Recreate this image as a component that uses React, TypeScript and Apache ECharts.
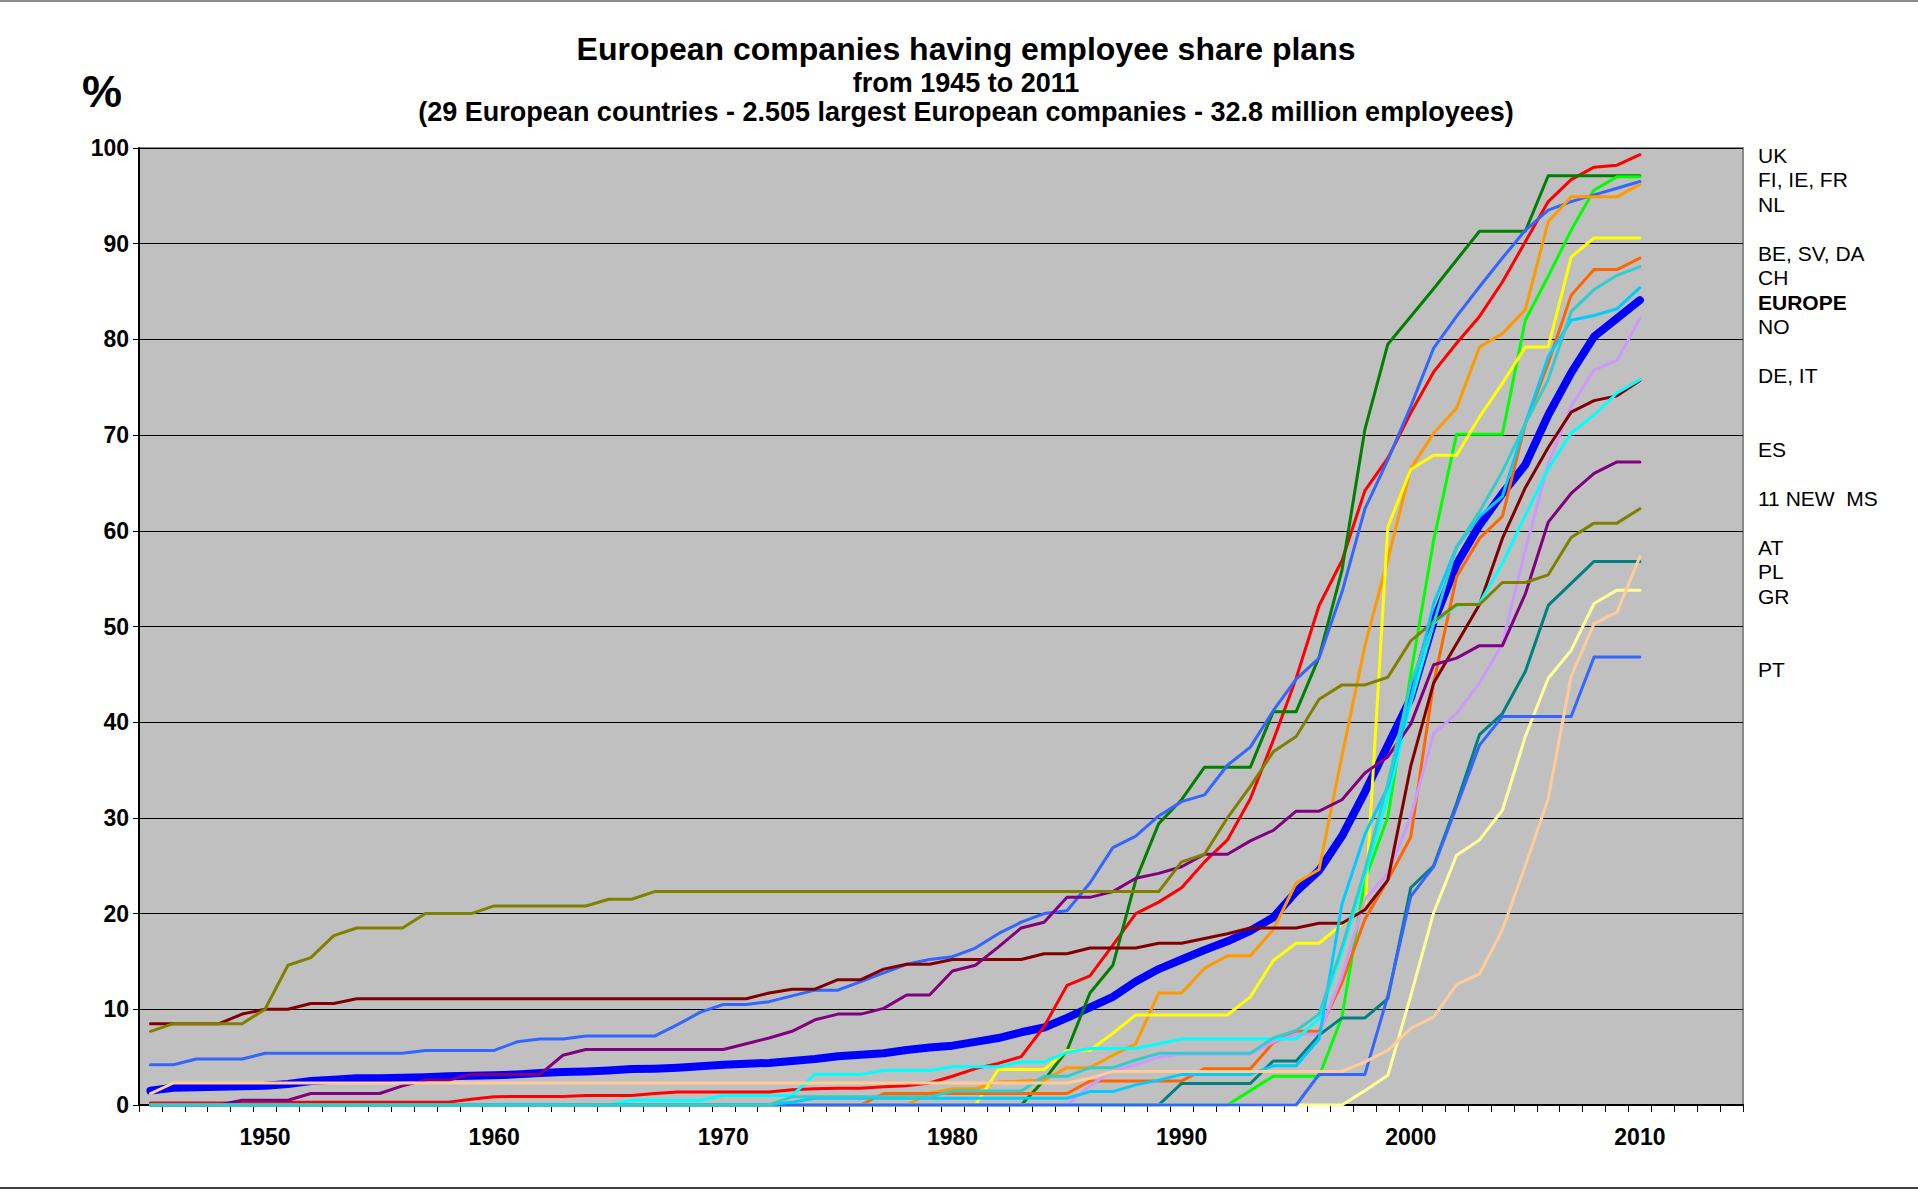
import React, { useEffect, useRef } from "react";
import * as echarts from "echarts";

const years = [
  "1945","1946","1947","1948","1949","1950","1951","1952","1953","1954",
  "1955","1956","1957","1958","1959","1960","1961","1962","1963","1964",
  "1965","1966","1967","1968","1969","1970","1971","1972","1973","1974",
  "1975","1976","1977","1978","1979","1980","1981","1982","1983","1984",
  "1985","1986","1987","1988","1989","1990","1991","1992","1993","1994",
  "1995","1996","1997","1998","1999","2000","2001","2002","2003","2004",
  "2005","2006","2007","2008","2009","2010","2011","2012","2013","2014",
];

const yTicks = [0, 10, 20, 30, 40, 50, 60, 70, 80, 90, 100];

const europe = [
  1.5, 1.8, 1.85, 1.9, 1.95, 2.0, 2.2, 2.5, 2.65, 2.8,
  2.8, 2.85, 2.9, 3.0, 3.05, 3.1, 3.2, 3.35, 3.45, 3.5,
  3.6, 3.75, 3.8, 3.9, 4.05, 4.2, 4.3, 4.4, 4.6, 4.8,
  5.1, 5.25, 5.4, 5.75, 6.0, 6.2, 6.6, 7.0, 7.6, 8.1,
  9.1, 10.2, 11.3, 12.9, 14.2, 15.2, 16.2, 17.1, 18.2, 19.6,
  22.3, 24.5, 28.1, 32.7, 37.6, 42.5, 50.5, 56.5, 60.6, 63.9,
  66.9, 72.1, 76.5, 80.3, 82.2, 84.1,
];

const uk = [
  0.2, 0.2, 0.2, 0.2, 0.2, 0.2, 0.3, 0.3, 0.3, 0.3,
  0.3, 0.3, 0.3, 0.3, 0.6, 0.85, 0.9, 0.9, 0.9, 1.0,
  1.0, 1.0, 1.2, 1.35, 1.35, 1.35, 1.35, 1.35, 1.6, 1.7,
  1.75, 1.75, 1.9, 2.0, 2.3, 3.0, 3.8, 4.35, 5.05, 8.2,
  12.5, 13.5, 16.7, 20.0, 21.2, 22.7, 25.4, 27.7, 32.0, 38.1,
  44.6, 52.2, 56.9, 64.2, 67.6, 72.3, 76.6, 79.6, 82.4, 86.0,
  90.2, 94.4, 96.7, 98.0, 98.2, 99.3,
];

const fi = [
  0, 0, 0, 0, 0, 0, 0, 0, 0, 0,
  0, 0, 0, 0, 0, 0, 0, 0, 0, 0,
  0, 0, 0, 0, 0, 0, 0, 0, 0, 0,
  0, 0, 0, 0, 0, 0, 0, 0, 0, 2.6,
  5.7, 11.7, 14.6, 23.5, 29.4, 31.9, 35.3, 35.3, 35.3, 41.1,
  41.1, 46.8, 55.9, 70.6, 79.5, 82.4, 85.3, 88.3, 91.3, 91.3,
  91.3, 97.1, 97.1, 97.1, 97.1, 97.1,
];

const ie = [
  0, 0, 0, 0, 0, 0, 0, 0, 0, 0,
  0, 0, 0, 0, 0, 0, 0, 0, 0, 0,
  0, 0, 0, 0, 0, 0, 0, 0, 0, 0,
  0, 0, 0, 0, 0, 0, 0, 0, 0, 0,
  0, 0, 0, 0, 0, 0, 0, 0, 1.5, 3.0,
  3.0, 3.0, 9.2, 23.5, 30.1, 45.0, 59.0, 70.1, 70.1, 70.1,
  82.0, 86.6, 91.4, 95.6, 97.0, 97.0,
];

const fr = [
  4.2, 4.2, 4.8, 4.8, 4.8, 5.4, 5.4, 5.4, 5.4, 5.4,
  5.4, 5.4, 5.7, 5.7, 5.7, 5.7, 6.6, 6.9, 6.9, 7.2,
  7.2, 7.2, 7.2, 8.4, 9.7, 10.5, 10.5, 10.8, 11.4, 12.0,
  12.0, 12.9, 13.8, 14.7, 15.2, 15.5, 16.4, 17.9, 19.1, 20.0,
  20.3, 23.2, 26.9, 28.1, 30.2, 31.7, 32.4, 35.5, 37.4, 41.2,
  44.5, 46.7, 53.6, 62.3, 67.4, 73.0, 79.1, 82.4, 85.5, 88.5,
  91.4, 93.5, 94.4, 95.1, 95.8, 96.5,
];

const nl = [
  0, 0, 0, 0, 0, 0, 0, 0, 0, 0,
  0, 0, 0, 0, 0, 0, 0, 0, 0, 0,
  0, 0, 0, 0, 0, 0, 0, 0, 0, 0,
  0, 0, 0, 0, 1.2, 1.7, 1.7, 2.4, 2.5, 2.6,
  3.9, 3.9, 5.2, 6.4, 11.7, 11.7, 14.3, 15.6, 15.6, 18.3,
  23.2, 24.6, 36.5, 48.0, 57.0, 66.5, 70.2, 72.8, 79.2, 80.6,
  83.1, 92.3, 94.9, 94.9, 94.9, 96.2,
];

const be = [
  0, 0, 0, 0, 0, 0, 0, 0, 0, 0,
  0, 0, 0, 0, 0, 0, 0, 0, 0, 0,
  0, 0, 0, 0, 0, 0, 0, 0, 0, 0,
  0, 0, 0, 0, 0, 0, 0, 3.7, 3.7, 3.7,
  5.7, 5.7, 7.5, 9.4, 9.4, 9.4, 9.4, 9.4, 11.3, 15.1,
  16.9, 16.9, 18.9, 20.5, 60.4, 66.4, 67.9, 67.9, 71.9, 75.4,
  79.2, 79.2, 88.6, 90.6, 90.6, 90.6,
];

const sv = [
  0, 0, 0, 0, 0, 0, 0, 0, 0, 0,
  0, 0, 0, 0, 0, 0, 0, 0, 0, 0,
  0, 0, 0, 0, 0, 0, 0, 0, 0, 0,
  0, 0, 1.2, 1.2, 1.2, 1.2, 1.2, 1.2, 1.2, 1.2,
  1.2, 2.5, 2.5, 2.5, 2.5, 2.5, 3.8, 3.8, 3.8, 6.5,
  7.7, 7.7, 12.8, 19.4, 23.5, 28.0, 44.1, 55.2, 59.2, 61.5,
  71.2, 77.5, 84.6, 87.3, 87.3, 88.5,
];

const da = [
  0, 0, 0, 0, 0, 0, 0, 0, 0, 0,
  0, 0, 0, 0, 0, 0, 0, 0, 0, 0,
  0, 0, 0, 0, 0, 0, 0, 0, 0.85, 0.85,
  0.85, 0.85, 0.85, 0.85, 0.85, 1.45, 1.45, 1.45, 1.45, 3.0,
  3.0, 3.9, 3.9, 4.7, 5.4, 5.4, 5.4, 5.4, 5.4, 7.0,
  7.8, 9.5, 16.5, 24.6, 33.6, 44.1, 50.3, 58.3, 62.0, 66.2,
  71.2, 75.8, 82.9, 85.2, 86.7, 87.6,
];

const ch = [
  0, 0, 0, 0, 0, 0, 0, 0, 0, 0,
  0, 0, 0, 0, 0, 0, 0, 0, 0, 0,
  0, 0, 0, 0, 0, 0, 0, 0, 0.3, 0.7,
  0.7, 0.7, 0.7, 0.7, 0.7, 0.7, 0.7, 0.7, 0.7, 0.7,
  0.7, 1.4, 1.4, 2.1, 2.6, 3.2, 3.2, 3.2, 3.2, 4.1,
  4.1, 6.9, 21.0, 28.3, 33.2, 42.5, 52.4, 58.3, 61.5, 63.6,
  71.2, 78.2, 82.0, 82.5, 83.2, 85.4,
];

const no = [
  0, 0, 0, 0, 0, 0, 0, 0, 0, 0,
  0, 0, 0, 0, 0, 0, 0, 0, 0, 0,
  0, 0, 0, 0, 0, 0, 0, 0, 0, 0,
  0, 0, 0, 0, 0, 0, 0, 0, 0, 0,
  0, 2.0, 3.6, 4.2, 5.0, 5.3, 5.3, 5.3, 5.3, 6.6,
  7.4, 7.4, 13.5, 21.5, 24.2, 30.1, 38.8, 40.9, 44.1, 48.2,
  58.0, 67.0, 73.0, 76.8, 77.8, 82.2,
];

const de = [
  8.5, 8.5, 8.5, 8.5, 9.5, 10.0, 10.0, 10.6, 10.6, 11.1,
  11.1, 11.1, 11.1, 11.1, 11.1, 11.1, 11.1, 11.1, 11.1, 11.1,
  11.1, 11.1, 11.1, 11.1, 11.1, 11.1, 11.1, 11.7, 12.1, 12.1,
  13.1, 13.1, 14.2, 14.7, 14.7, 15.2, 15.2, 15.2, 15.2, 15.8,
  15.8, 16.4, 16.4, 16.4, 16.9, 16.9, 17.4, 17.9, 18.5, 18.5,
  18.5, 19.0, 19.0, 20.4, 23.5, 35.4, 44.1, 48.2, 52.3, 59.2,
  64.5, 68.7, 72.4, 73.6, 74.1, 75.7,
];

const it = [
  0, 0, 0, 0, 0, 0, 0, 0, 0, 0,
  0, 0, 0, 0, 0, 0, 0, 0, 0, 0,
  0, 0.5, 0.5, 0.5, 0.5, 1.0, 1.0, 1.0, 1.0, 3.2,
  3.2, 3.2, 3.6, 3.6, 3.6, 4.0, 4.0, 4.0, 4.5, 4.5,
  5.5, 5.9, 5.9, 5.9, 6.4, 6.9, 6.9, 6.9, 6.9, 6.9,
  6.9, 9.0, 16.0, 24.0, 32.2, 42.0, 50.3, 52.2, 52.4, 56.6,
  61.6, 66.5, 70.2, 72.1, 74.4, 75.8,
];

const es = [
  0, 0, 0, 0, 0.5, 0.5, 0.5, 1.2, 1.2, 1.2,
  1.2, 2.0, 2.6, 2.6, 3.2, 3.2, 3.2, 3.2, 5.2, 5.8,
  5.8, 5.8, 5.8, 5.8, 5.8, 5.8, 6.4, 7.0, 7.7, 8.9,
  9.5, 9.5, 10.1, 11.5, 11.5, 14.0, 14.6, 16.5, 18.5, 19.1,
  21.7, 21.7, 22.3, 23.7, 24.2, 24.9, 26.2, 26.2, 27.6, 28.7,
  30.7, 30.7, 31.9, 34.7, 36.4, 39.8, 46.0, 46.7, 48.0, 48.0,
  53.4, 60.9, 63.9, 66.0, 67.2, 67.2,
];

const newMs = [
  7.7, 8.5, 8.5, 8.5, 8.5, 10.0, 14.6, 15.4, 17.7, 18.5,
  18.5, 18.5, 20.0, 20.0, 20.0, 20.8, 20.8, 20.8, 20.8, 20.8,
  21.5, 21.5, 22.3, 22.3, 22.3, 22.3, 22.3, 22.3, 22.3, 22.3,
  22.3, 22.3, 22.3, 22.3, 22.3, 22.3, 22.3, 22.3, 22.3, 22.3,
  22.3, 22.3, 22.3, 22.3, 22.3, 25.4, 26.2, 30.0, 33.3, 36.9,
  38.5, 42.4, 43.9, 43.9, 44.7, 48.5, 50.5, 52.3, 52.3, 54.6,
  54.6, 55.4, 59.3, 60.8, 60.8, 62.3,
];

const pl = [
  0, 0, 0, 0, 0, 0, 0, 0, 0, 0,
  0, 0, 0, 0, 0, 0, 0, 0, 0, 0,
  0, 0, 0, 0, 0, 0, 0, 0, 0, 0,
  0, 0, 0, 0, 0, 0, 0, 0, 0, 0,
  0, 0, 0, 0, 0, 2.25, 2.25, 2.25, 2.25, 4.6,
  4.6, 7.3, 9.1, 9.1, 11.1, 22.7, 25.0, 31.5, 38.7, 40.9,
  45.3, 52.2, 54.5, 56.8, 56.8, 56.8,
];

const gr = [
  0, 0, 0, 0, 0, 0, 0, 0, 0, 0,
  0, 0, 0, 0, 0, 0, 0, 0, 0, 0,
  0, 0, 0, 0, 0, 0, 0, 0, 0, 0,
  0, 0, 0, 0, 0, 0, 0, 0, 0, 0,
  0, 0, 0, 0, 0, 0, 0, 0, 0, 0,
  0, 0, 0, 1.5, 3.1, 11.4, 20.1, 26.1, 27.7, 30.8,
  38.5, 44.6, 47.5, 52.4, 53.8, 53.8,
];

const pt = [
  0, 0, 0, 0, 0, 0, 0, 0, 0, 0,
  0, 0, 0, 0, 0, 0, 0, 0, 0, 0,
  0, 0, 0, 0, 0, 0, 0, 0, 0, 0,
  0, 0, 0, 0, 0, 0, 0, 0, 0, 0,
  0, 0, 0, 0, 0, 0, 0, 0, 0, 0,
  0, 3.2, 3.2, 3.2, 11.4, 21.8, 24.9, 31.2, 37.6, 40.6,
  40.6, 40.6, 40.6, 46.8, 46.8, 46.8,
];

const at = [
  1.2, 2.3, 2.3, 2.3, 2.3, 2.3, 2.3, 2.3, 2.3, 2.3,
  2.3, 2.3, 2.3, 2.3, 2.3, 2.3, 2.3, 2.3, 2.3, 2.3,
  2.3, 2.3, 2.3, 2.3, 2.3, 2.3, 2.3, 2.3, 2.3, 2.3,
  2.3, 2.3, 2.3, 2.3, 2.3, 2.3, 2.3, 2.3, 2.3, 2.3,
  2.3, 2.8, 3.5, 3.5, 3.5, 3.5, 3.5, 3.5, 3.5, 3.5,
  3.5, 3.5, 3.5, 4.5, 5.7, 8.0, 9.2, 12.6, 13.7, 18.3,
  25.0, 32.0, 44.8, 50.3, 51.5, 57.3,
];

const titleLines = [
  "European companies having employee share plans",
  "from 1945 to 2011",
  "(29 European countries - 2.505 largest European companies - 32.8 million employees)",
];

const rightLabels = [
  "UK", "FI, IE, FR", "NL", "BE, SV, DA", "CH", "EUROPE", "NO",
  "DE, IT", "ES", "11 NEW  MS", "AT", "PL", "GR", "PT",
];

// layout (line slots of the right-hand text block)
const rightSlots = [0, 1, 2, 4, 5, 6, 7, 9, 12, 14, 16, 17, 18, 21];

const FONT = '"Liberation Sans", Arial, Helvetica, sans-serif';

const seriesDefs = [
  { name: "EUROPE", data: europe, color: "#0000FF", width: 8 },
  { name: "UK", data: uk, color: "#FF0000", width: 3 },
  { name: "FI", data: fi, color: "#008000", width: 3 },
  { name: "IE", data: ie, color: "#00FF00", width: 3 },
  { name: "FR", data: fr, color: "#3366FF", width: 3 },
  { name: "NL", data: nl, color: "#FF9900", width: 3 },
  { name: "BE", data: be, color: "#FFFF00", width: 3 },
  { name: "SV", data: sv, color: "#FF6600", width: 3 },
  { name: "NO", data: no, color: "#CC99FF", width: 3 },
  { name: "DE", data: de, color: "#800000", width: 3 },
  { name: "IT", data: it, color: "#00FFFF", width: 3 },
  { name: "ES", data: es, color: "#800080", width: 3 },
  { name: "11 NEW MS", data: newMs, color: "#808000", width: 3 },
  { name: "PL", data: pl, color: "#008080", width: 3 },
  { name: "GR", data: gr, color: "#FFFF99", width: 3 },
  { name: "PT", data: pt, color: "#3366FF", width: 3 },
  { name: "CH", data: ch, color: "#00CCFF", width: 3 },
  { name: "DA", data: da, color: "#33CCCC", width: 3 },
  { name: "AT", data: at, color: "#FFCC99", width: 3 },
];

export default function App() {
  const ref = useRef<HTMLDivElement | null>(null);

  useEffect(() => {
    if (!ref.current) return;
    const chart = echarts.init(ref.current, undefined, { renderer: "svg" });

    const graphics: any[] = [
      { type: "line", shape: { x1: 0, y1: 1, x2: 1918, y2: 1 }, style: { stroke: "#8a8a8a", lineWidth: 2 } },
      { type: "line", shape: { x1: 0, y1: 1188, x2: 1918, y2: 1188 }, style: { stroke: "#404040", lineWidth: 2 } },
      {
        type: "text", x: 966, y: 49,
        style: { text: titleLines[0], font: `bold 32px ${FONT}`, fill: "#000", align: "center", verticalAlign: "middle" },
      },
      {
        type: "text", x: 966, y: 83,
        style: { text: titleLines[1], font: `bold 27px ${FONT}`, fill: "#000", align: "center", verticalAlign: "middle" },
      },
      {
        type: "text", x: 966, y: 112,
        style: { text: titleLines[2], font: `bold 27px ${FONT}`, fill: "#000", align: "center", verticalAlign: "middle" },
      },
      {
        type: "text", x: 102, y: 91,
        style: { text: "%", font: `bold 45px ${FONT}`, fill: "#000", align: "center", verticalAlign: "middle" },
      },
    ];
    rightLabels.forEach((t, i) => {
      graphics.push({
        type: "text",
        x: 1758,
        y: 155 + rightSlots[i] * 24.5,
        style: {
          text: t,
          font: `${t === "EUROPE" ? "bold " : ""}21px ${FONT}`,
          fill: "#000",
          align: "left",
          verticalAlign: "middle",
        },
      });
    });

    chart.setOption({
      animation: false,
      backgroundColor: "#ffffff",
      grid: {
        left: 139, top: 148, width: 1604, height: 957,
        show: true, backgroundColor: "#C0C0C0", borderColor: "#8a8a8a", borderWidth: 2,
      },
      xAxis: {
        type: "category",
        data: years,
        boundaryGap: true,
        axisLine: { show: true, lineStyle: { color: "#000", width: 2 } },
        axisTick: { show: true, interval: 0, length: 7, lineStyle: { color: "#000", width: 1 } },
        axisLabel: {
          interval: (_i: number, v: string) => Number(v) % 10 === 0,
          margin: 20,
          color: "#000",
          fontFamily: FONT,
          fontWeight: "bold",
          fontSize: 23,
        },
        splitLine: { show: false },
      },
      yAxis: {
        type: "value",
        min: yTicks[0],
        max: yTicks[yTicks.length - 1],
        interval: 10,
        axisLine: { show: true, lineStyle: { color: "#000", width: 2 } },
        axisTick: { show: true, length: 6, lineStyle: { color: "#000", width: 1 } },
        axisLabel: { margin: 10, color: "#000", fontFamily: FONT, fontWeight: "bold", fontSize: 23 },
        splitLine: { show: true, lineStyle: { color: "#000", width: 1 } },
      },
      graphic: graphics,
      series: seriesDefs.map((s) => ({
        type: "line",
        name: s.name,
        data: s.data,
        symbol: "none",
        silent: true,
        smooth: false,
        lineStyle: { color: s.color, width: s.width, cap: "round", join: "round" },
        itemStyle: { color: s.color },
      })),
    });

    return () => chart.dispose();
  }, []);

  return (
    <div
      ref={ref}
      style={{ position: "fixed", left: 0, top: 0, width: 1918, height: 1192, background: "#fff" }}
    />
  );
}
